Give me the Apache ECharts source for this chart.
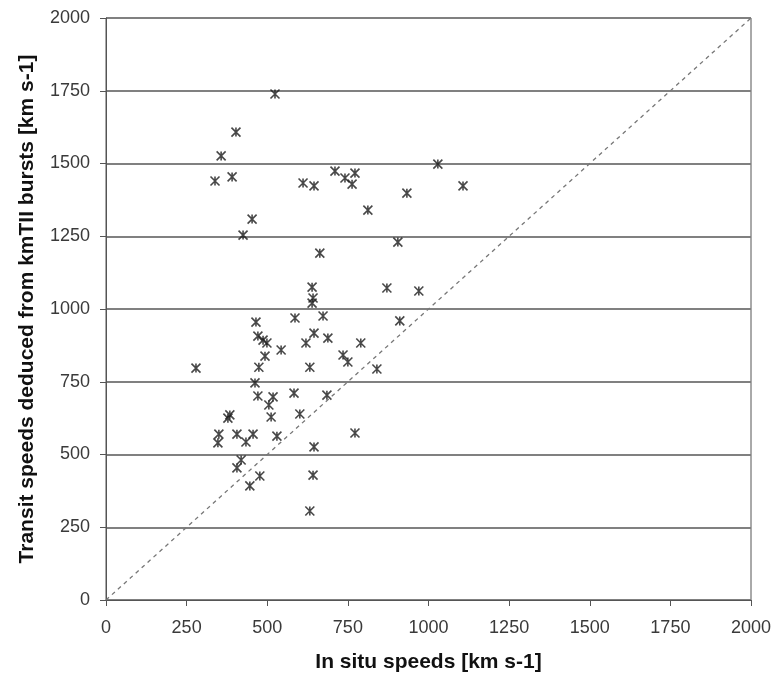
<!DOCTYPE html>
<html>
<head>
<meta charset="utf-8">
<script src="https://cdn.jsdelivr.net/npm/echarts@6/dist/echarts.min.js"></script>
<style>html,body{margin:0;padding:0;background:#fff;}#c{width:777px;height:677px;}</style>
</head>
<body>
<div id="c"></div>
<script>
// In situ speeds (x) and transit speeds (y), km s-1
const inSitu = [524, 403, 357, 338, 391, 611, 645, 710, 741, 772, 763, 812, 453, 425, 663, 639, 642, 639, 871,
  1029, 933, 1107, 905, 970,
  465, 586, 673, 471, 487, 499, 645, 688, 620, 790, 543, 493, 735, 750, 840, 279, 474, 632,
  462, 471, 518, 505, 583, 685, 384, 378, 512, 601, 350, 347, 406, 434, 456, 530, 772, 645,
  419, 406, 477, 446, 642, 632, 911];
const transit = [1739, 1608, 1526, 1440, 1454, 1433, 1423, 1474, 1450, 1467, 1429, 1340, 1309, 1254, 1192, 1075, 1038, 1020, 1072,
  1498, 1398, 1423, 1230, 1062,
  955, 969, 976, 907, 893, 883, 917, 900, 883, 883, 859, 838, 842, 818, 794, 797, 800, 800,
  746, 701, 698, 670, 711, 704, 636, 625, 629, 639, 570, 540, 570, 543, 570, 563, 574, 526,
  481, 454, 426, 392, 429, 306, 959];
const refLine = [[0, 0], [2000, 2000]];
const axisTicks = [0, 250, 500, 750, 1000, 1250, 1500, 1750, 2000];

const points = inSitu.map((x, i) => [x, transit[i]]);
const chart = echarts.init(document.getElementById('c'));
const font = 'Liberation Sans, Arial, sans-serif';
const plain = v => String(v);
chart.setOption({
  animation: false,
  backgroundColor: '#fff',
  grid: { left: 106, right: 26, top: 18, bottom: 77, show: true, borderColor: '#555', borderWidth: 1,
    containLabel: false, outerBoundsMode: 'none' },
  xAxis: {
    type: 'value', min: axisTicks[0], max: axisTicks[axisTicks.length - 1], interval: 250,
    name: 'In situ speeds [km s-1]', nameLocation: 'middle', nameGap: 52,
    nameTextStyle: { fontFamily: font, fontWeight: 'bold', fontSize: 21, color: '#111' },
    axisLine: { show: true, lineStyle: { color: '#555', width: 1 } },
    axisTick: { show: true, inside: false, length: 6, lineStyle: { color: '#555' } },
    axisLabel: { fontFamily: font, fontSize: 18, color: '#3a3a3a', margin: 19, formatter: plain },
    splitLine: { show: false }
  },
  yAxis: {
    type: 'value', min: axisTicks[0], max: axisTicks[axisTicks.length - 1], interval: 250,
    name: 'Transit speeds deduced from kmTII bursts [km s-1]', nameLocation: 'middle', nameGap: 68,
    nameTextStyle: { fontFamily: font, fontWeight: 'bold', fontSize: 21, color: '#111' },
    axisLine: { show: true, lineStyle: { color: '#555', width: 1 } },
    axisTick: { show: true, inside: false, length: 6, lineStyle: { color: '#555' } },
    axisLabel: { fontFamily: font, fontSize: 18, color: '#3a3a3a', margin: 16, formatter: plain },
    splitLine: { show: true, lineStyle: { color: '#808080', width: 2 } }
  },
  series: [
    {
      type: 'line', data: refLine, symbol: 'none', silent: true,
      lineStyle: { color: '#777', width: 1.3, type: [4, 4] }
    },
    {
      type: 'scatter', data: points,
      symbol: 'path://M0,0L8,8M8,0L0,8M4,0L4,8',
      symbolSize: 9,
      itemStyle: { color: '#222', borderColor: '#1a1a1a', borderWidth: 1.6 }
    }
  ]
});
</script>
</body>
</html>
